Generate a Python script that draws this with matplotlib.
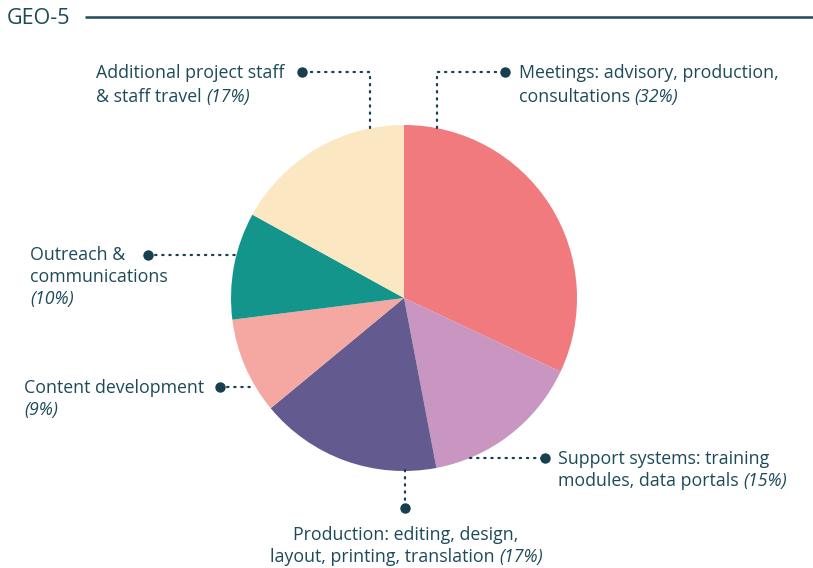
import matplotlib
matplotlib.use("Agg")
import matplotlib.pyplot as plt

# data
labels = ["Meetings: advisory, production, consultations",
          "Support systems: training modules, data portals",
          "Production: editing, design, layout, printing, translation",
          "Content development",
          "Outreach & communications",
          "Additional project staff & staff travel"]
shares = [32, 15, 17, 9, 10, 17]
colors = ["#F17A7E", "#C896C0", "#635A8F", "#F5A7A2", "#13958C", "#FBE7C1"]
title = "GEO-5"

ink = "#1D4A5A"
dotc = "#173F4F"
W, H = 813, 568
plt.rcParams['font.family'] = ['Open Sans', 'DejaVu Sans']

fig = plt.figure(figsize=(W / 100, H / 100), dpi=100)
ax = fig.add_axes([0, 0, 1, 1])


def Y(y):
    return H - y


cx, cy, r = 404, 298, 173
ax.pie(shares, colors=colors, startangle=90, counterclock=False,
       center=(cx, Y(cy)), radius=r, frame=True,
       wedgeprops=dict(linewidth=0))
ax.set_xlim(0, W)
ax.set_ylim(0, H)
ax.set_aspect("equal")
ax.axis("off")

# title and rule
ax.text(7, Y(18), title, fontsize=15.5, color=ink, va="center", ha="left")
ax.plot([85, W], [Y(17), Y(17)], color=ink, lw=1.8, solid_capstyle="butt")


def leader(pts, dot):
    xs = [p[0] for p in pts]
    ys = [Y(p[1]) for p in pts]
    ax.plot(xs, ys, color=dotc, lw=1.6, linestyle=(0, (0.6, 2.6)),
            dash_capstyle="round")
    ax.plot(dot[0], Y(dot[1]), "o", color=dotc, ms=7.5, mec="none")


leader([(437, 128), (437, 72), (505, 72)], (505, 72))
leader([(370, 128), (370, 72), (302, 72)], (302, 72))
leader([(148, 255), (236, 255)], (148, 255))
leader([(220, 387), (250, 387)], (220, 387))
leader([(470, 458), (545, 458)], (545, 458))
leader([(405, 470), (405, 508)], (405, 508))

fig.canvas.draw()
rend = fig.canvas.get_renderer()
fs = 12.8


def line(x, y, segs, align="left"):
    arts = []
    for s, it in segs:
        t = ax.text(0, Y(y), s, fontsize=fs, color=ink, va="center", ha="left",
                    style="italic" if it else "normal")
        arts.append(t)
    widths = [a.get_window_extent(rend).width for a in arts]
    total = sum(widths)
    x0 = x - total / 2 if align == "center" else x
    for a, w in zip(arts, widths):
        a.set_x(x0)
        x0 += w


line(519, 73, [("Meetings: advisory, production,", False)])
line(519, 97, [("consultations ", False), ("(32%)", True)])
line(96, 73, [("Additional project staff", False)])
line(96, 97, [("& staff travel ", False), ("(17%)", True)])
line(30, 255, [("Outreach &", False)])
line(30, 277, [("communications", False)])
line(30, 299, [("(10%)", True)])
line(24, 388, [("Content development", False)])
line(24, 410, [("(9%)", True)])
line(558, 459, [("Support systems: training", False)])
line(558, 481, [("modules, data portals ", False), ("(15%)", True)])
line(406, 535, [("Production: editing, design,", False)], "center")
line(406, 557, [("layout, printing, translation ", False), ("(17%)", True)], "center")

fig.savefig("out.png", dpi=100)
